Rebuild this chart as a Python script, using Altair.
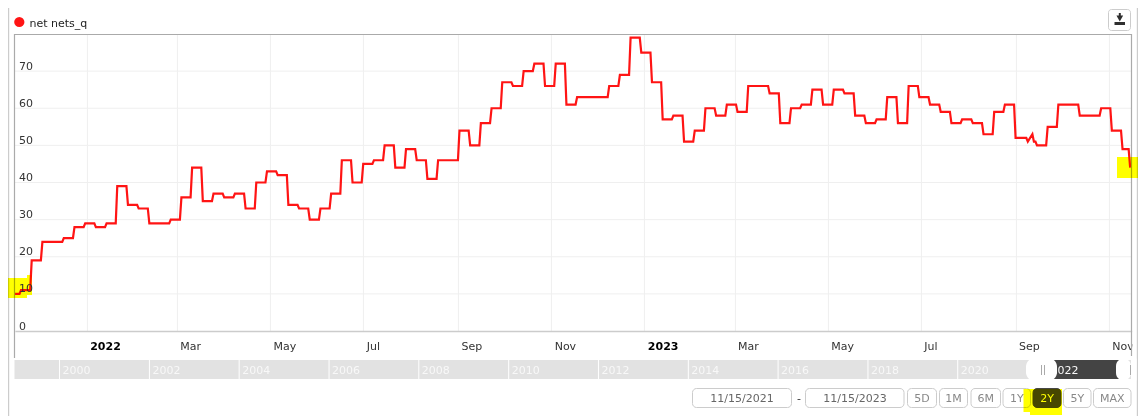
import altair as alt
import pandas as pd

# ---------- data ----------
start_dates = ["2021-11-15"]
start_values = [10]
# weekly readings, one per Friday starting 2021-11-19
first_week = "2021-11-19"
weekly_values = [
    11, 19, 24, 24, 25, 28, 29, 28, 29, 39, 34, 33, 29, 29, 30, 36, 44, 35,
    37, 36, 37, 33, 40, 43, 42, 34, 33, 30, 33, 37, 46, 40, 45, 46, 50, 44,
    49, 46, 41, 46, 46, 54, 50, 56, 60, 67, 66, 70, 72, 66, 72, 61, 63, 63,
    63, 66, 69, 79, 75, 67, 57, 58, 51, 54, 60, 58, 61, 59, 66, 66, 64, 56,
    60, 61, 65, 61, 65, 64, 58, 56, 57, 63, 56, 66, 63, 61, 59, 56, 57, 56,
    53, 59, 61, 52, 52, 50, 55, 61, 61, 58, 58, 60, 54, 49,
]
# off-week readings of September 2023 and the last day
extra_dates = ["2023-09-09", "2023-09-12", "2023-09-13", "2023-09-14", "2023-11-15"]
extra_values = [51, 53, 51, 51, 44]
skip_hold_for = ["2023-09-08"]

y_ticks = [0, 10, 20, 30, 40, 50, 60, 70]
tick_months = [
    (2022, 1), (2022, 3), (2022, 5), (2022, 7), (2022, 9), (2022, 11),
    (2023, 1), (2023, 3), (2023, 5), (2023, 7), (2023, 9), (2023, 11),
]
nav_years = [str(y) for y in range(2000, 2024, 2)]
legend_label = "net nets_q"
date_from = "11/15/2021"
date_to = "11/15/2023"
range_buttons = ["5D", "1M", "6M", "1Y", "2Y", "5Y", "MAX"]

# ---------- table ----------
rows = list(zip(start_dates, start_values))
rows.append(("2021-11-18", start_values[0]))
fridays = pd.date_range(first_week, periods=len(weekly_values), freq="7D")
for day, v in zip(fridays, weekly_values):
    rows.append((day.strftime("%Y-%m-%d"), v))
    if day.strftime("%Y-%m-%d") in skip_hold_for:
        continue
    last = day + pd.Timedelta(days=6)
    if last <= pd.Timestamp("2023-11-14"):
        rows.append((last.strftime("%Y-%m-%d"), v))
rows.append(("2023-11-14", weekly_values[-1]))
rows.extend(zip(extra_dates, extra_values))
rows.sort(key=lambda r: r[0])
df = pd.DataFrame(rows, columns=["date", "value"])

FONT = "DejaVu Sans"
W, H = 1116.8, 297
OX, OY = 14.9, 34  # window position of the plot area
one = pd.DataFrame({"a": [0]})


def px(x):
    return alt.value(x - OX)


def py(y):
    return alt.value(y - OY)


def box(x0, y0, x1, y1, **style):
    return alt.Chart(one).mark_rect(**style).encode(x=px(x0), x2=px(x1), y=py(y0), y2=py(y1))


def vline(x, y0, y1, color, width=1.0):
    return alt.Chart(one).mark_rule(color=color, strokeWidth=width).encode(x=px(x), y=py(y0), y2=py(y1))


def hline(x0, x1, y, color, width=1.0):
    return alt.Chart(one).mark_rule(color=color, strokeWidth=width).encode(x=px(x0), x2=px(x1), y=py(y))


def label(x, y, text, color="#333333", size=11, align="left", weight="normal"):
    return alt.Chart(one).mark_text(
        text=text, color=color, fontSize=size, font=FONT, align=align, baseline="middle", fontWeight=weight
    ).encode(x=px(x), y=py(y))


def dt(y, m, d=1):
    return alt.DateTime(year=y, month=m, date=d, utc=True)


x_axis = alt.Axis(
    values=[dt(y, m) for y, m in tick_months],
    labelExpr="utcmonth(datum.value)==0 ? utcFormat(datum.value,'%Y') : utcFormat(datum.value,'%b')",
    labelFontWeight=alt.condition("utcmonth(datum.value)==0", alt.value("bold"), alt.value("normal")),
    labelColor=alt.condition("utcmonth(datum.value)==0", alt.value("#000000"), alt.value("#333333")),
    labelAlign="left",
    labelBaseline="middle",
    labelPadding=15,
    labelOffset=3,
    labelFont=FONT,
    labelFontSize=11,
    labelFlush=False,
    labelBound=False,
    labelOverlap=False,
    ticks=False,
    grid=True,
    gridColor="#efefef",
    gridWidth=1,
    domainColor="#cccccc",
    domainWidth=1.5,
    title=None,
)
y_axis = alt.Axis(
    values=y_ticks,
    labelAlign="left",
    labelBaseline="bottom",
    labelPadding=-3.5,
    labelOffset=0,
    labelFont=FONT,
    labelFontSize=11,
    labelColor="#333333",
    labelFlush=False,
    labelBound=False,
    labelOverlap=False,
    ticks=False,
    domain=False,
    grid=False,
    title=None,
    zindex=1,
)

y_scale = alt.Scale(domain=[0, 80], nice=False)
y_grid = alt.Chart(pd.DataFrame({"tick": y_ticks[1:]})).mark_rule(color="#efefef", strokeWidth=1).encode(
    y=alt.Y("tick:Q", scale=y_scale, axis=y_axis),
    x=alt.value(0),
    x2=alt.value(W),
)

line = alt.Chart(df).mark_line(color="#ff1414", strokeWidth=2.2, interpolate="linear", clip=False).encode(
    x=alt.X("date:T", axis=x_axis, scale=alt.Scale(type="utc", domain=[dt(2021, 11, 15), dt(2023, 11, 16)])),
    y=alt.Y("value:Q", axis=y_axis, scale=y_scale),
)

# navigator
nav_scale = alt.Scale(type="utc", domain=[dt(1999, 1, 3), dt(2023, 11, 16)])
nav_df = pd.DataFrame({"date": [f"{y}-01-01" for y in nav_years], "year": nav_years})
nav_ticks = alt.Chart(nav_df).mark_rule(color="#ffffff", strokeWidth=1).encode(
    x=alt.X("date:T", scale=nav_scale, axis=None), y=py(360), y2=py(379)
)
nav_text = alt.Chart(nav_df).mark_text(
    color="#f8f8f8", fontSize=11, font=FONT, align="left", baseline="middle", dx=3
).encode(x=alt.X("date:T", scale=nav_scale, axis=None), y=py(370.5), text="year:N")

# button boxes
BTN = dict(fill="#ffffff", stroke="#cccccc", strokeWidth=1, cornerRadius=4)
btn_edges = [(907.5, 936.5), (939.5, 967.5), (971, 1000.5), (1003, 1030.5), (1033, 1061), (1063.5, 1091), (1093.5, 1131)]
buttons = []
for name, (a, b) in zip(range_buttons, btn_edges):
    active = name == "2Y"
    style = dict(BTN)
    if active:
        style.update(fill="#474747", stroke="#474747")
    buttons.append(box(a, 388.5, b, 407.5, **style))
    buttons.append(label((a + b) / 2, 398.5, name, color="#ffffff" if active else "#888888", align="center"))

chart = alt.layer(
    y_grid,
    line,
    # frame
    hline(14.5, 1131.7, 34.5, "#aaaaaa", 1.2),
    vline(14.5, 34, 358, "#aaaaaa", 1.2),
    box(1132.3, 338, 1137, 355, fill="#ffffff"),
    vline(1131.5, 34, 356, "#aaaaaa", 1.2),
    vline(8.5, 0, 416, "#cccccc", 1.4),
    vline(1137.5, 0, 416, "#cccccc", 1.4),
    # legend
    alt.Chart(one).mark_point(filled=True, fill="#ff1414", stroke=None, shape="circle", size=105, opacity=1).encode(x=px(19.3), y=py(22)),
    label(29.5, 23.5, legend_label, color="#222222"),
    # download button
    box(1108.5, 9.5, 1130.5, 30.5, fill="#ffffff", stroke="#cccccc", strokeWidth=1, cornerRadius=3),
    box(1114.5, 22, 1125, 25, fill="#2f2f2f"),
    box(1118.8, 13, 1120.8, 18, fill="#2f2f2f"),
    alt.Chart(one).mark_point(filled=True, fill="#2f2f2f", stroke=None, shape="triangle-down", size=45, opacity=1).encode(x=px(1119.8), y=py(18.5)),
    # navigator
    box(14.5, 360, 1131, 379, fill="#e2e2e2"),
    box(1050, 360, 1122, 379, fill="#444444"),
    nav_ticks,
    nav_text,
    box(1026, 358.5, 1057, 380.5, fill="#ffffff", cornerRadius=8),
    box(1116, 358.5, 1131, 380.5, fill="#ffffff", cornerRadius=8),
    box(1131, 358.5, 1136.5, 380.5, fill="#ffffff"),
    vline(1041.5, 365, 375, "#aaaaaa", 1),
    vline(1044.5, 365, 375, "#aaaaaa", 1),
    vline(1130.5, 365, 375, "#aaaaaa", 1),
    # date range inputs
    box(692.5, 388.5, 791.5, 407.5, **BTN),
    box(805.5, 388.5, 904, 407.5, **BTN),
    label(742, 398.5, date_from, color="#666666", align="center"),
    label(855, 398.5, date_to, color="#666666", align="center"),
    label(799, 398.5, "-", color="#333333", align="center"),
    *buttons,
    # highlighter marks
    box(8, 278, 27, 298, fill="#ffff00", blend="multiply"),
    box(27, 275, 32, 295, fill="#ffff00", blend="multiply"),
    box(1117, 157, 1140, 178, fill="#ffff00", blend="multiply"),
    box(1023.5, 389, 1062, 412, fill="#ffff00", blend="multiply"),
    box(1030, 412, 1062, 415, fill="#ffff00", blend="multiply"),
).resolve_scale(x="independent").properties(
    width=W,
    height=H,
    padding={"left": OX - 8, "top": OY - 8, "right": 1130 - (OX - 8) - W, "bottom": 408 - (OY - 8) - H},
    autosize=alt.AutoSizeParams(type="none"),
    background="#ffffff",
).configure_view(stroke=None)

chart.save("out.html", embed_options={"renderer": "svg", "actions": False})
